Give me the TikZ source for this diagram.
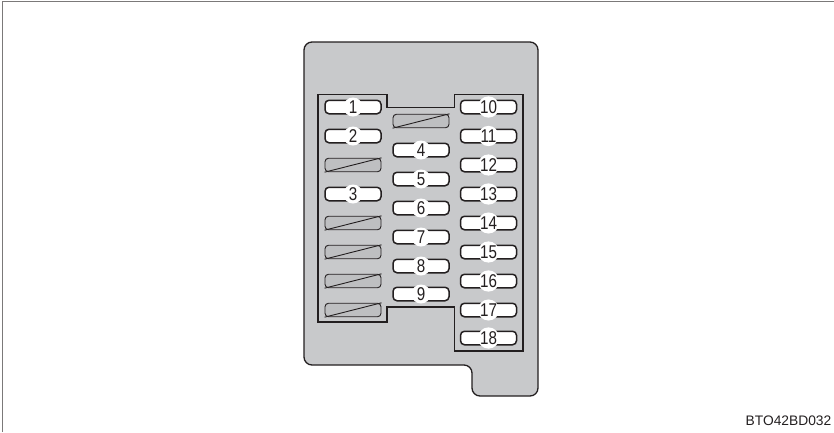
\documentclass[tikz,border=0pt]{standalone}
\usepackage{fontspec}
\setmainfont{Liberation Sans}
\newfontfamily\numfont[FakeStretch=0.82]{Liberation Sans}
\definecolor{panel}{HTML}{C8C9CB}
\definecolor{ink}{HTML}{231F20}
\tikzset{
  x=1pt,y=-1pt,
  frameline/.style={draw=ink!60,line width=1pt},
  body/.style={draw=ink,fill=panel,line width=1.3pt,rounded corners=8pt},
  well/.style={draw=ink,line width=1.1pt},
  fuse/.style={draw=ink,fill=white,line width=1.5pt,rounded corners=4pt,minimum width=56pt,minimum height=13.5pt,inner sep=0pt},
  spare/.style={draw=ink,fill=panel!95!black,line width=0.9pt,rounded corners=3.5pt,minimum width=56pt,minimum height=13.5pt,inner sep=0pt},
  num/.style={circle,fill=white,minimum size=19pt,inner sep=0pt,font=\numfont\fontsize{18.5}{18.5}\selectfont,text=ink},
  code/.style={anchor=east,inner sep=0pt,font=\fontsize{13.8}{15}\selectfont,text=ink},
  slash/.style={draw=ink,line width=0.9pt}
}
\newcommand{\fusebox}[4]{\node[fuse] (f#1) at (#2,#3) {}; \node[num] (n#1) at (f#1) {#4};}
\newcommand{\sparebox}[3]{\node[spare] (s#1) at (#2,#3) {}; \draw[slash] (s#1.south west) -- (s#1.north east);}
\begin{document}
\begin{tikzpicture}
\useasboundingbox (0,0) rectangle (834,432);
\draw[frameline] (2.5,432) -- (2.5,1) -- (834,1);
\draw[body] (304,42) -- (538,42) -- (538,396) -- (472,396) -- (472,365) -- (304,365) -- cycle;
\draw[well] (318,94.5) -- (387,94.5) -- (387,107.5) -- (454.5,107.5) -- (454.5,94.5) -- (523,94.5) -- (523,351) -- (454.5,351) -- (454.5,307) -- (387,307) -- (387,322) -- (318,322) -- cycle;
\fusebox{1}{353}{107}{1}
\fusebox{2}{353}{136}{2}
\sparebox{a}{353}{165}
\fusebox{3}{353}{194}{3}
\sparebox{b}{353}{223}
\sparebox{c}{353}{252}
\sparebox{d}{353}{281}
\sparebox{e}{353}{310}
\sparebox{f}{421}{121}
\fusebox{4}{421}{150}{4}
\fusebox{5}{421}{179}{5}
\fusebox{6}{421}{208}{6}
\fusebox{7}{421}{237}{7}
\fusebox{8}{421}{266}{8}
\fusebox{9}{421}{294}{9}
\fusebox{10}{488.5}{107}{10}
\fusebox{11}{488.5}{136}{11}
\fusebox{12}{488.5}{165}{12}
\fusebox{13}{488.5}{194}{13}
\fusebox{14}{488.5}{223}{14}
\fusebox{15}{488.5}{252}{15}
\fusebox{16}{488.5}{281}{16}
\fusebox{17}{488.5}{310}{17}
\fusebox{18}{488.5}{338}{18}
\node[code] (code) at (831.5,421) {BTO42BD032};
\end{tikzpicture}
\end{document}
